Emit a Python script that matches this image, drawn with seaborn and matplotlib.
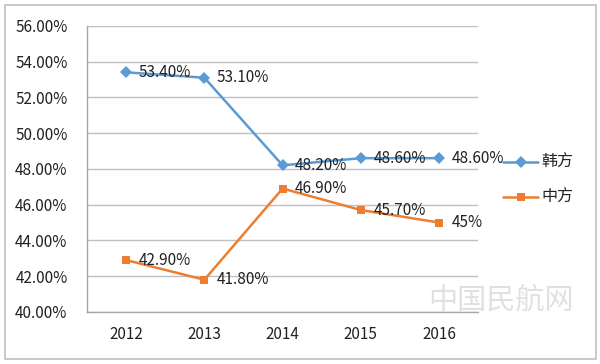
import matplotlib.pyplot as plt
import pandas as pd
import seaborn as sns
from matplotlib.patches import Rectangle

years = ["2012", "2013", "2014", "2015", "2016"]
han_vals = [53.4, 53.1, 48.2, 48.6, 48.6]
zhong_vals = [42.9, 41.8, 46.9, 45.7, 45.0]
han_labels = ["53.40%", "53.10%", "48.20%", "48.60%", "48.60%"]
zhong_labels = ["42.90%", "41.80%", "46.90%", "45.70%", "45%"]
series_names = ["韩方", "中方"]
colors = ["#5B9BD5", "#ED7D31"]

df = pd.DataFrame({
    "year": years * 2,
    "value": han_vals + zhong_vals,
    "series": [series_names[0]] * 5 + [series_names[1]] * 5,
})

sns.set_theme(style="white")
plt.rcParams['font.family'] = ['Noto Sans CJK SC', 'DejaVu Sans']

fig = plt.figure(figsize=(6, 3.64), dpi=100)
ax = fig.add_axes([0.145, 0.143, 0.652, 0.786])

sns.lineplot(data=df, x="year", y="value", hue="series", style="series",
             markers={"韩方": "D", "中方": "s"}, dashes=False,
             palette=dict(zip(series_names, colors)), markersize=6,
             markeredgewidth=0, linewidth=1.8, ax=ax, legend=False)

# data labels
for vals, labels in [(han_vals, han_labels), (zhong_vals, zhong_labels)]:
    for i, (v, t) in enumerate(zip(vals, labels)):
        ax.annotate(t, (i, v), xytext=(9, 0), textcoords="offset points",
                    va="center", ha="left", fontsize=11, color="#222222")

ax.set_ylim(40, 56)
ax.set_xlim(-0.5, 4.5)
ax.set_yticks(range(40, 57, 2))
ax.set_yticklabels([f"{t:.2f}%" for t in range(40, 57, 2)])
ax.yaxis.grid(True, color="#bfbfbf", linewidth=1)
ax.set_xlabel("")
ax.set_ylabel("")
ax.tick_params(axis="both", length=0, labelsize=11, colors="#222222")
ax.tick_params(axis="x", pad=10)
ax.tick_params(axis="y", pad=14)
for s in ["top", "right"]:
    ax.spines[s].set_visible(False)
for s in ["left", "bottom"]:
    ax.spines[s].set_color("#a6a6a6")
    ax.spines[s].set_linewidth(1)

# legend on the right
leg_y = [0.555, 0.458]
mk = ["D", "s"]
for name, c, y, m in zip(series_names, colors, leg_y, mk):
    fig.lines.append(plt.Line2D([0.838, 0.897], [y, y], color=c, linewidth=1.8,
                                transform=fig.transFigure))
    fig.lines.append(plt.Line2D([0.8675], [y], color=c, marker=m, markersize=6,
                                markeredgewidth=0, transform=fig.transFigure))
    fig.text(0.903, y, name, va="center", ha="left", fontsize=11.5, color="#222222")

# watermark
fig.text(0.835, 0.175, "中国民航网", ha="center", va="center", fontsize=21,
         color="#d9d9d9", alpha=0.8)

# outer border
fig.patches.append(Rectangle((0.009, 0.015), 0.984, 0.97, transform=fig.transFigure,
                             fill=False, edgecolor="#bfbfbf", linewidth=1.2))

fig.savefig("out.png", dpi=100)
